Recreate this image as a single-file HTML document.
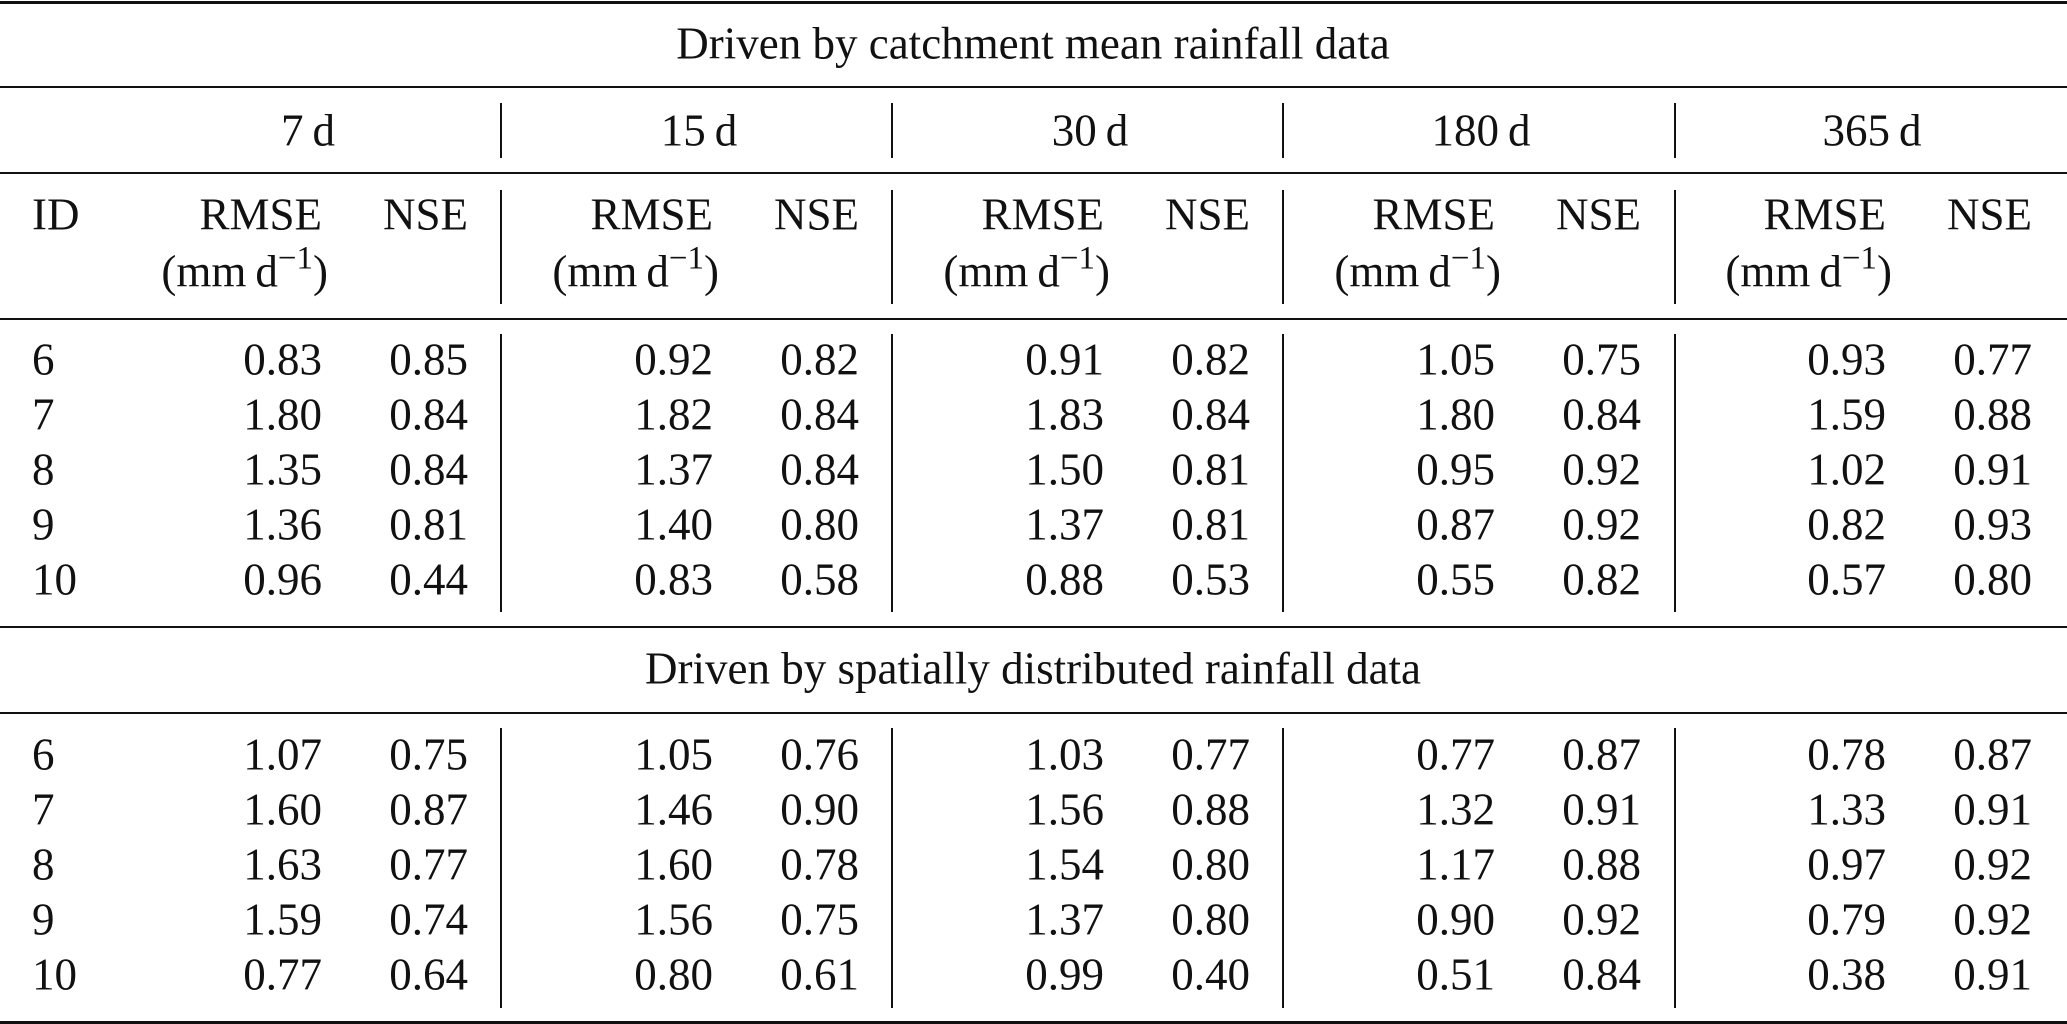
<!DOCTYPE html>
<html><head><meta charset="utf-8"><style>
html,body{margin:0;padding:0;background:#fff}
#t{position:relative;width:2067px;height:1024px;overflow:hidden;font-family:"Liberation Serif",serif;font-size:45px;color:#111}
.h{position:absolute;left:0;width:2067px;background:#111}
.v{position:absolute;width:2px;background:#111}
.tx{position:absolute;white-space:nowrap;line-height:1;transform:translateY(-50%)}
.r{text-align:right}
.c{transform:translate(-50%,-50%)}
sup{font-size:33px;vertical-align:0;position:relative;top:-18px}
</style></head><body>
<div id="t"></div>
<script>
const windows=["7\u2009d","15\u2009d","30\u2009d","180\u2009d","365\u2009d"];
const ids=["6","7","8","9","10"];
const meanRMSE=[["0.83","1.80","1.35","1.36","0.96"],["0.92","1.82","1.37","1.40","0.83"],["0.91","1.83","1.50","1.37","0.88"],["1.05","1.80","0.95","0.87","0.55"],["0.93","1.59","1.02","0.82","0.57"]];
const meanNSE=[["0.85","0.84","0.84","0.81","0.44"],["0.82","0.84","0.84","0.80","0.58"],["0.82","0.84","0.81","0.81","0.53"],["0.75","0.84","0.92","0.92","0.82"],["0.77","0.88","0.91","0.93","0.80"]];
const distRMSE=[["1.07","1.60","1.63","1.59","0.77"],["1.05","1.46","1.60","1.56","0.80"],["1.03","1.56","1.54","1.37","0.99"],["0.77","1.32","1.17","0.90","0.51"],["0.78","1.33","0.97","0.79","0.38"]];
const distNSE=[["0.75","0.87","0.77","0.74","0.64"],["0.76","0.90","0.78","0.75","0.61"],["0.77","0.88","0.80","0.80","0.40"],["0.87","0.91","0.88","0.92","0.84"],["0.87","0.91","0.92","0.92","0.91"]];
const T=document.getElementById('t');
function add(cls,style,html,name){const e=document.createElement('div');e.className=cls;e.style.cssText=style;if(html!==undefined)e.innerHTML=html;


T.appendChild(e);return e;}
[[1,3],[86,2],[172,2],[318,2],[626,2],[712,2],[1021,3]].forEach((h,i)=>add('h',`top:${h[0]}px;height:${h[1]}px`,undefined,'horizontal-rule'));
const G=391, rmseR=322, nseR=468, vx=[500,891,1282,1674];
const vseg=[[103,158],[190,304],[334,612],[728,1008]];
vx.forEach(x=>vseg.forEach(s=>add('v',`left:${x}px;top:${s[0]}px;height:${s[1]-s[0]}px`,undefined,'column-separator')));
add('tx c',`left:1033px;top:44px`,'Driven by catchment mean rainfall data','section-title-mean');
add('tx c',`left:1033px;top:669px`,'Driven by spatially distributed rainfall data','section-title-distributed');
function R(x,y,txt,name){add('tx r',`right:${2067-x}px;top:${y}px`,txt,name);}
windows.forEach((w,g)=>{
  add('tx c',`left:${308+g*G}px;top:131px`,w,'window-header');
  R(rmseR+g*G,215,'RMSE','rmse-header');
  R(rmseR+6+g*G,272,'(mm\u2009d<sup>\u22121</sup>)','rmse-unit');
  R(nseR+g*G,215,'NSE','nse-header');
});
add('tx',`left:32px;top:215px`,'ID','id-header');
const y1=[360,415,470,525,580], y2=[755,810,865,920,975];
ids.forEach((id,i)=>{
  add('tx',`left:32px;top:${y1[i]}px`,id,'row-id');
  add('tx',`left:32px;top:${y2[i]}px`,id,'row-id');
  windows.forEach((w,g)=>{
    R(rmseR+g*G,y1[i],meanRMSE[g][i],'rmse-value');
    R(nseR+g*G,y1[i],meanNSE[g][i],'nse-value');
    R(rmseR+g*G,y2[i],distRMSE[g][i],'rmse-value');
    R(nseR+g*G,y2[i],distNSE[g][i],'nse-value');
  });
});
</script>
</body></html>
